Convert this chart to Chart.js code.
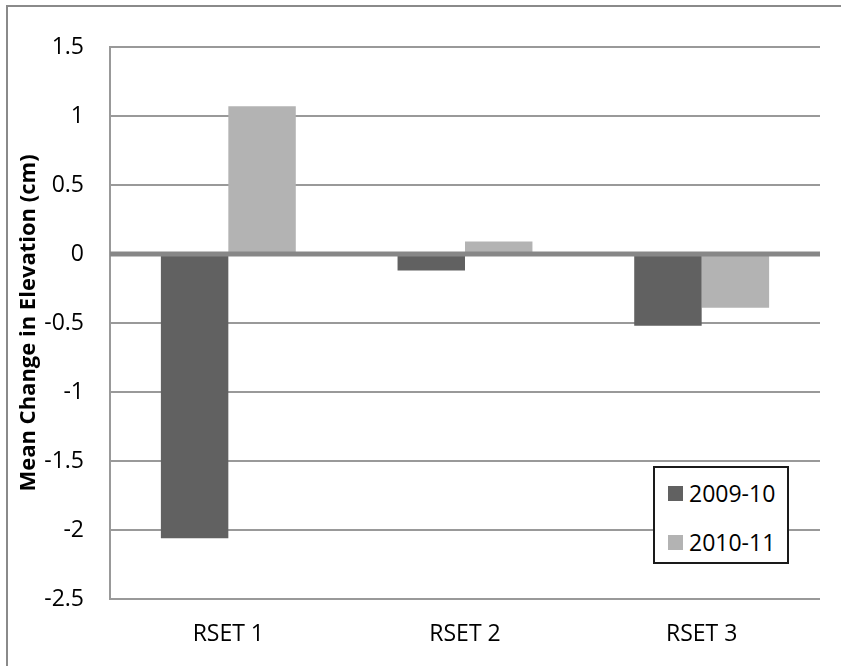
<!DOCTYPE html>
<html>
<head>
<meta charset="utf-8">
<script src="https://cdn.jsdelivr.net/npm/chart.js@4.4.1/dist/chart.umd.min.js"></script>
<style>
  html, body { margin: 0; padding: 0; background: #fff; }
  #wrap { position: relative; width: 841px; height: 666px; overflow: hidden; }
  #frame { position: absolute; left: 6px; top: 5px; width: 900px; height: 760px; border: 2px solid #8a8a8a; box-sizing: border-box; }
  canvas { position: absolute; left: 0; top: 0; }
  #legend { position: absolute; left: 653px; top: 466px; width: 136px; height: 98px; border: 2px solid #1a1a1a; box-sizing: border-box; background: #fff;
            font-family: "Open Sans", sans-serif; font-size: 23px; color: #000; }
  .item { position: absolute; left: 13px; height: 30px; display: flex; align-items: center; }
  .sw { width: 15px; height: 15px; margin-right: 6px; }
</style>
</head>
<body>
<div id="wrap">
  <div id="frame"></div>
  <canvas id="c" width="841" height="666"></canvas>
  <div id="legend"></div>
</div>
<script>
const categories = ["RSET 1", "RSET 2", "RSET 3"];
const seriesNames = ["2009-10", "2010-11"];
const values2009 = [-2.06, -0.12, -0.52];
const values2010 = [1.07, 0.09, -0.39];
const seriesColors = ["#616161", "#b3b3b3"];
const yTicks = [1.5, 1, 0.5, 0, -0.5, -1, -1.5, -2, -2.5];

// heavier zero baseline drawn over the bars
const zeroLine = {
  id: 'zeroLine',
  afterDatasetsDraw(chart) {
    const { ctx, chartArea, scales } = chart;
    const y = scales.y.getPixelForValue(0);
    ctx.save();
    ctx.strokeStyle = '#878787';
    ctx.lineWidth = 5;
    ctx.beginPath();
    ctx.moveTo(chartArea.left, y);
    ctx.lineTo(chartArea.right, y);
    ctx.stroke();
    ctx.restore();
  }
};

const FONT = "'Open Sans', sans-serif";

new Chart(document.getElementById('c'), {
  type: 'bar',
  data: {
    labels: categories,
    datasets: [
      { label: seriesNames[0], data: values2009, backgroundColor: seriesColors[0] },
      { label: seriesNames[1], data: values2010, backgroundColor: seriesColors[1] }
    ]
  },
  options: {
    responsive: false,
    animation: false,
    devicePixelRatio: 1,
    layout: { padding: { top: 47, right: 21, bottom: 0, left: 0 } },
    datasets: { bar: { categoryPercentage: 0.57, barPercentage: 1.0 } },
    plugins: { legend: { display: false }, tooltip: { enabled: false } },
    scales: {
      x: {
        grid: { display: false, drawTicks: false },
        border: { display: false },
        ticks: { color: '#000', font: { family: FONT, size: 23 }, padding: 22 },
        afterFit(scale) { scale.height = 67; }
      },
      y: {
        min: -2.5, max: 1.5,
        afterBuildTicks(scale) { scale.ticks = yTicks.map(v => ({ value: v })); },
        grid: { color: '#999', lineWidth: 2, drawTicks: false },
        border: { display: true, color: '#999', width: 2 },
        ticks: {
          color: '#000', font: { family: FONT, size: 23 }, padding: 26,
          callback: v => String(v)
        },
        title: {
          display: true, text: 'Mean Change in Elevation (cm)', color: '#000',
          font: { family: FONT, size: 22, weight: 'bold' }, padding: { top: 16, bottom: 0 }
        },
        afterFit(scale) { scale.width = 110; }
      }
    }
  },
  plugins: [zeroLine]
});

// legend box built from the series arrays
const legend = document.getElementById('legend');
seriesNames.forEach((name, i) => {
  const it = document.createElement('div');
  it.className = 'item';
  it.style.top = (10 + i * 49) + 'px';
  const sw = document.createElement('div');
  sw.className = 'sw';
  sw.style.background = seriesColors[i];
  const tx = document.createElement('span');
  tx.textContent = name;
  it.appendChild(sw); it.appendChild(tx);
  legend.appendChild(it);
});
</script>
</body>
</html>
